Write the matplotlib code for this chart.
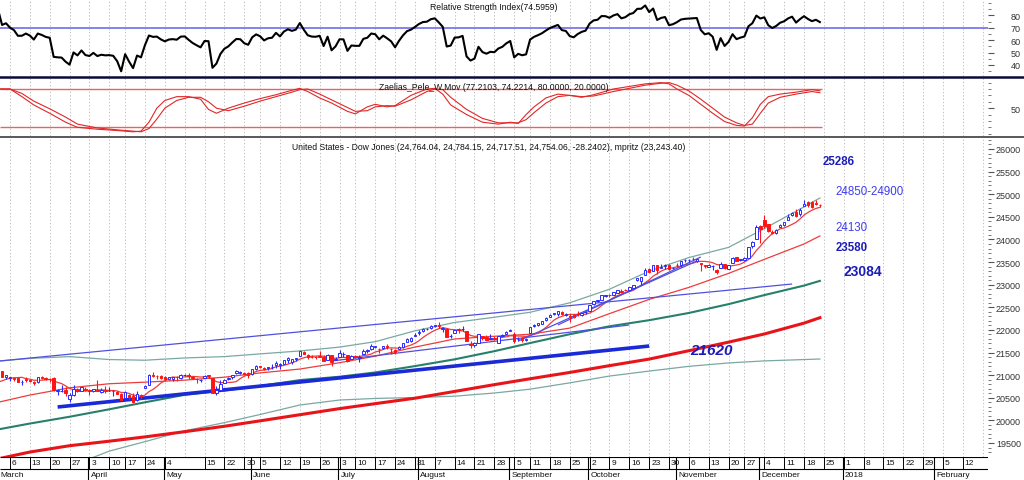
import numpy as np
import pandas as pd
import matplotlib
matplotlib.use("Agg")
import matplotlib.pyplot as plt
from matplotlib.lines import Line2D
from matplotlib.ticker import FixedLocator, NullFormatter

plt.rcParams['font.family'] = ['Liberation Sans', 'DejaVu Sans']

# ---------------- data ----------------
start_date = '2017-03-01'
holidays = ['2017-04-14', '2017-05-29', '2017-07-04', '2017-09-04', '2017-11-23']

# January-February 2017 closes (only used to start the RSI / fast average)
warmup_closes = [19882, 19942, 19899, 19964, 19887, 19856, 19954, 19891, 19886, 19826,
                 19804, 19732, 19827, 19799, 19912, 20069, 20101, 20094, 19971, 19864,
                 19891, 19885, 20071, 20052, 20090, 20054, 20172, 20269, 20412, 20504,
                 20612, 20620, 20624, 20743, 20776, 20810, 20822, 20837, 20812]

opens = [
    20958, 21089, 20949, 20944, 20941, 20929, 20841, 20913, 20889, 20849, 20846, 20970, 20945, 20907, 20934, 20644, 20651, 20671, 20478, 20555, 20684, 20659, 20697,
    20665, 20650, 20681, 20637, 20670, 20650, 20640, 20631, 20585, 20488, 20558, 20545, 20453, 20569, 20723, 20788, 21001, 20987, 20975,
    20962, 20922, 20925, 20968, 20937, 21001, 21006, 20970, 20920, 20896, 20930, 20999, 20937, 20602, 20681, 20827, 20913, 20954, 21037, 21056, 21039, 21041,
    21023, 21145, 21195, 21156, 21161, 21183, 21216, 21230, 21250, 21346, 21298, 21368, 21425, 21521, 21451, 21411, 21397, 21421, 21404, 21340, 21438, 21324,
    21392, 21471, 21441, 21351, 21416, 21379, 21464, 21529, 21584, 21628, 21585, 21604, 21649, 21583, 21560, 21583, 21625, 21734, 21761, 21859,
    21925, 21985, 22018, 22051, 22086, 22105, 22013, 22019, 21858, 21928, 22024, 22014, 21982, 21683, 21669, 21716, 21860, 21837, 21808, 21826, 21720, 21862, 21919,
    21967, 21920, 21792, 21816, 21784, 21936, 22093, 22100, 22131, 22212, 22292, 22350, 22362, 22402, 22333, 22318, 22328, 22343, 22329, 22388,
    22423, 22569, 22646, 22671, 22754, 22763, 22783, 22822, 22866, 22882, 22875, 22933, 23094, 23086, 23210, 23349, 23302, 23432, 23374, 23422, 23432, 23362,
    23442, 23441, 23537, 23541, 23566, 23532, 23470, 23424, 23392, 23408, 23335, 23369, 23455, 23354, 23476, 23604, 23554, 23555, 23589, 23854, 24000,
    24305, 24424, 24335, 24158, 24148, 24272, 24329, 24427, 24543, 24606, 24560, 24739, 24839, 24828, 24807, 24764]
highs = [
    21169, 21101, 21014, 20966, 20941, 20949, 20895, 20958, 20903, 20864, 20951, 20992, 20950, 20929, 20953, 20690, 20778, 20734, 20609, 20777, 20715, 20738, 20727,
    20703, 20703, 20888, 20726, 20752, 20729, 20668, 20660, 20596, 20639, 20580, 20605, 20655, 20592, 20779, 21016, 21071, 21012, 20994,
    20974, 20961, 20967, 20992, 21015, 21033, 21043, 20979, 20935, 20914, 20999, 21000, 20937, 20757, 20895, 20919, 20952, 21013, 21113, 21095, 21059, 21064,
    21145, 21225, 21208, 21176, 21190, 21239, 21305, 21274, 21332, 21392, 21361, 21384, 21535, 21527, 21469, 21454, 21429, 21535, 21449, 21462, 21453, 21393,
    21562, 21512, 21441, 21452, 21445, 21448, 21582, 21576, 21681, 21650, 21609, 21646, 21681, 21595, 21577, 21654, 21713, 21830, 21833, 21929,
    21990, 22036, 22041, 22104, 22118, 22180, 22055, 22037, 21917, 22002, 22039, 22084, 21982, 21759, 21729, 21909, 21860, 21885, 21900, 21867, 21874, 21902, 21977,
    22016, 21944, 21844, 21834, 21831, 22070, 22128, 22159, 22206, 22275, 22359, 22382, 22413, 22419, 22369, 22358, 22353, 22417, 22384, 22411,
    22558, 22646, 22672, 22777, 22775, 22793, 22839, 22873, 22905, 22906, 22957, 23002, 23158, 23167, 23360, 23371, 23442, 23436, 23449, 23450, 23449, 23399,
    23485, 23517, 23557, 23564, 23602, 23565, 23483, 23445, 23468, 23425, 23351, 23494, 23460, 23443, 23617, 23611, 23563, 23605, 23837, 23970, 24327,
    24330, 24534, 24350, 24213, 24233, 24345, 24387, 24552, 24607, 24671, 24691, 24876, 24850, 24852, 24877, 24784]
lows = [
    20958, 20949, 20924, 20861, 20880, 20843, 20777, 20858, 20846, 20783, 20831, 20908, 20900, 20848, 20655, 20570, 20620, 20542, 20412, 20542, 20630, 20646, 20660,
    20559, 20622, 20641, 20610, 20605, 20648, 20536, 20577, 20453, 20488, 20463, 20386, 20431, 20482, 20723, 20788, 20969, 20914, 20921,
    20866, 20902, 20873, 20876, 20913, 20990, 20925, 20921, 20832, 20845, 20930, 20926, 20606, 20553, 20681, 20824, 20887, 20917, 21025, 21020, 20993, 20937,
    21000, 21121, 21160, 21121, 21114, 21141, 21163, 21136, 21245, 21277, 21251, 21320, 21425, 21467, 21352, 21373, 21355, 21393, 21310, 21333, 21197, 21324,
    21392, 21410, 21286, 21351, 21376, 21293, 21464, 21498, 21556, 21601, 21498, 21578, 21585, 21476, 21468, 21573, 21610, 21725, 21732, 21859,
    21898, 21946, 21992, 22024, 22061, 22051, 21950, 21843, 21822, 21928, 21942, 21985, 21749, 21600, 21630, 21716, 21783, 21783, 21791, 21786, 21705, 21847, 21903,
    21967, 21712, 21747, 21725, 21760, 21936, 22068, 22087, 22127, 22187, 22285, 22339, 22300, 22333, 22297, 22186, 22270, 22304, 22313, 22351,
    22420, 22560, 22620, 22662, 22733, 22732, 22771, 22812, 22820, 22852, 22870, 22932, 23073, 22997, 23210, 23271, 23302, 23241, 23365, 23350, 23315, 23337,
    23401, 23384, 23494, 23510, 23515, 23503, 23311, 23376, 23381, 23320, 23242, 23369, 23357, 23350, 23476, 23517, 23527, 23513, 23589, 23820, 24000,
    23922, 24249, 24168, 24115, 24124, 24272, 24298, 24427, 24522, 24506, 24517, 24739, 24726, 24705, 24760, 24718]
closes = [
    21116, 20951, 21006, 20954, 20925, 20856, 20858, 20903, 20881, 20837, 20950, 20935, 20915, 20906, 20668, 20661, 20657, 20597, 20551, 20702, 20659, 20728, 20663,
    20650, 20689, 20648, 20663, 20656, 20658, 20651, 20592, 20453, 20637, 20523, 20404, 20579, 20548, 20764, 20996, 20975, 20981, 20941,
    20913, 20950, 20958, 20951, 21007, 21012, 20976, 20943, 20919, 20897, 20982, 20980, 20607, 20663, 20805, 20895, 20938, 21012, 21083, 21080, 21029, 21009,
    21144, 21206, 21184, 21136, 21174, 21183, 21272, 21236, 21328, 21375, 21360, 21384, 21529, 21467, 21410, 21397, 21395, 21410, 21311, 21455, 21287, 21350,
    21479, 21478, 21320, 21414, 21409, 21409, 21532, 21553, 21638, 21630, 21575, 21641, 21612, 21580, 21513, 21613, 21711, 21797, 21830, 21891,
    21964, 22016, 22026, 22093, 22118, 22085, 22049, 21844, 21858, 21994, 21999, 22025, 21751, 21675, 21704, 21900, 21812, 21783, 21814, 21808, 21865, 21892, 21948,
    21988, 21753, 21808, 21785, 21798, 22057, 22119, 22158, 22203, 22268, 22331, 22371, 22413, 22359, 22350, 22296, 22284, 22341, 22381, 22405,
    22558, 22642, 22662, 22775, 22774, 22761, 22831, 22873, 22841, 22872, 22957, 22997, 23158, 23163, 23329, 23274, 23442, 23329, 23401, 23434, 23349, 23377,
    23435, 23516, 23539, 23548, 23557, 23563, 23462, 23422, 23440, 23409, 23271, 23458, 23358, 23430, 23591, 23526, 23558, 23581, 23837, 23941, 24272,
    24232, 24290, 24181, 24141, 24211, 24329, 24386, 24505, 24585, 24509, 24652, 24792, 24755, 24727, 24782, 24754]

# smooth overlay lines (bar number since 1 March 2017)
ma_bars    = [0, 8, 18, 28, 37, 47, 57, 66, 76, 86, 95, 105, 115, 125, 134, 144, 154, 164, 174, 184, 193, 203, 207]
ma_long    = [19150, 19300, 19440, 19540, 19635, 19750, 19870, 19990, 20125, 20260, 20370, 20490, 20640, 20790, 20920, 21060, 21210, 21355, 21540, 21730, 21910, 22150, 22270]
ma_mid     = [19800, 19930, 20080, 20245, 20400, 20565, 20660, 20760, 20890, 20965, 21060, 21200, 21350, 21530, 21710, 21905, 22080, 22215, 22375, 22570, 22770, 22980, 23084]
band_upper = [21310, 21370, 21410, 21345, 21330, 21380, 21410, 21470, 21535, 21620, 21740, 21980, 22165, 22280, 22390, 22600, 22900, 23300, 23600, 23825, 24240, 24720, 24917]
band_lower = [18500, 18700, 18980, 19320, 19530, 19770, 19950, 20130, 20340, 20450, 20485, 20505, 20535, 20605, 20690, 20830, 20980, 21090, 21195, 21270, 21315, 21345, 21357]
ma_medium  = [20400, 20560, 20720, 20810, 20845, 20890, 20955, 21050, 21135, 21275, 21420, 21620, 21800, 21860, 21905, 22040, 22360, 22675, 22940, 23250, 23560, 23900, 24077]
fast_ma_period = 7

stoch_bars = [0, 3, 6, 9, 13, 17, 20, 25, 30, 34, 36, 38, 40, 42, 45, 48, 51, 53, 55, 58, 62, 66, 70, 74, 76, 78, 81, 84, 88, 90,
              93, 95, 98, 100, 104, 108, 110, 112, 114, 118, 122, 126, 129, 131, 133, 135, 138, 141, 144, 147, 150, 155, 159, 163, 167,
              169, 171, 174, 177, 180, 183, 186, 188, 190, 192, 194, 197, 201, 205, 207]
stoch_k = [80, 80, 68, 55, 42, 28, 20, 17, 15, 13, 14, 28, 50, 62, 68, 68, 64, 48, 42, 50, 58, 65, 71, 78, 81, 76, 66, 58, 45, 41,
           52, 56, 52, 54, 70, 80, 81, 72, 55, 40, 28, 25, 28, 26, 40, 52, 66, 72, 70, 67, 71, 80, 84, 88, 90,
           88, 80, 70, 56, 42, 29, 23, 22, 35, 56, 68, 72, 75, 79, 77.2]
stoch_d = [80, 80, 73, 61, 49, 36, 25, 19, 16, 14, 13, 18, 33, 50, 62, 67, 67, 60, 50, 46, 53, 61, 68, 75, 79, 80, 72, 63, 51, 45,
           46, 52, 54, 53, 63, 76, 80, 79, 67, 48, 34, 27, 27, 27, 32, 43, 58, 68, 70, 68, 69, 76, 81, 86, 89,
           90, 86, 77, 64, 50, 36, 27, 23, 25, 42, 58, 67, 72, 76, 74.2]

trend_bar_start = [0, 15, 84, 131, 141]
trend_bar_end   = [200, 164, 159, 176, 177]
trend_val_start = [21310, 20296, 21313, 21755, 22109]
trend_val_end   = [23015, 21644, 22109, 23524, 23612]

week_tick_dates = ['2017-03-06', '2017-03-13', '2017-03-20', '2017-03-27', '2017-04-03', '2017-04-10', '2017-04-17',
                   '2017-04-24', '2017-05-01', '2017-05-15', '2017-05-22', '2017-05-30', '2017-06-05', '2017-06-12',
                   '2017-06-19', '2017-06-26', '2017-07-03', '2017-07-10', '2017-07-17', '2017-07-24', '2017-07-31',
                   '2017-08-07', '2017-08-14', '2017-08-21', '2017-08-28', '2017-09-05', '2017-09-11', '2017-09-18',
                   '2017-09-25', '2017-10-02', '2017-10-09', '2017-10-16', '2017-10-23', '2017-10-30', '2017-11-06',
                   '2017-11-13', '2017-11-20', '2017-11-27', '2017-12-04', '2017-12-11', '2017-12-18', '2017-12-25',
                   '2018-01-01', '2018-01-08', '2018-01-15', '2018-01-22', '2018-01-29', '2018-02-05', '2018-02-12']
week_tick_labels = ['6', '13', '20', '27', '3', '10', '17', '24', '4', '15', '22', '30', '5', '12', '19', '26', '3', '10',
                    '17', '24', '31', '7', '14', '21', '28', '5', '11', '18', '25', '2', '9', '16', '23', '30', '6', '13',
                    '20', '27', '4', '11', '18', '25', '1', '8', '15', '22', '29', '5', '12']
month_dates = ['2017-04-03', '2017-05-01', '2017-06-01', '2017-07-03', '2017-08-01', '2017-09-01', '2017-10-02',
               '2017-11-01', '2017-12-01', '2018-01-01', '2018-02-01']
month_labels = ['April', 'May', 'June', 'July', 'August', 'September', 'October', 'November', 'December', '2018', 'February']

level_labels = ['25286', '24850-24900', '24130', '23580', '23084', '21620']

rsi_title = 'Relative Strength Index(74.5959)'
stoch_title = 'Zaelias_Pele_W.Mov (77.2103, 74.2214, 80.0000, 20.0000)'
main_title = ('United States - Dow Jones (24,764.04, 24,784.15, 24,717.51, 24,754.06, -28.2402), '
              'mpritz (23,243.40)')

# ---------------- calendar ----------------
cal = pd.bdate_range(start_date, '2018-03-30')
cal = cal[~cal.isin(pd.to_datetime(holidays))]
pos = {d: i for i, d in enumerate(cal)}
def P(s):
    return pos[pd.Timestamp(s)]

week_first = pd.Series(np.arange(len(cal)), index=cal).groupby(cal.to_period('W')).min().values

n = min(len(opens), len(highs), len(lows), len(closes))
o = np.array(opens[:n], float); h = np.array(highs[:n], float)
l = np.array(lows[:n], float); c = np.array(closes[:n], float)
bars = np.arange(n)

allc = np.array(warmup_closes + list(c), float)
d = np.diff(allc)
g = np.clip(d, 0, None); ls = np.clip(-d, 0, None)
per = 14
ag = g[:per].mean(); al = ls[:per].mean()
rsi_all = np.full(len(allc), np.nan)
rsi_all[per] = 100 - 100 / (1 + ag / al)
for k in range(per, len(d)):
    ag = (ag * (per - 1) + g[k]) / per
    al = (al * (per - 1) + ls[k]) / per
    rsi_all[k + 1] = 100 - 100 / (1 + ag / al)
rsi = rsi_all[len(warmup_closes):]
fast_ma = pd.Series(allc).rolling(fast_ma_period).mean().values[len(warmup_closes):]

# ---------------- figure ----------------
W, H = 1024, 481
fig = plt.figure(figsize=(W / 100, H / 100), dpi=100)
fig.patch.set_facecolor('white')
def fx(px): return px / W
def fy(py): return 1 - py / H

PW = 988
def bar_at_px(px): return 3 + (px - 10) / 3.97
XL = (bar_at_px(0), bar_at_px(PW))
LABEL_RIGHT = 1021
MAJ_LEN = 4.0  # points

def mk_ax(top, bottom):
    ax = fig.add_axes([0, fy(bottom), fx(PW), (bottom - top) / H])
    ax.set_xlim(*XL)
    for s in ax.spines.values():
        s.set_visible(False)
    ax.set_xticks([])
    ax.yaxis.tick_right()
    pad_pt = (LABEL_RIGHT - PW) * 0.72 - MAJ_LEN
    ax.tick_params(axis='y', which='major', direction='out', length=MAJ_LEN, width=0.8, color='#555555',
                   labelsize=6.5, labelcolor='#333333', pad=pad_pt)
    ax.tick_params(axis='y', which='minor', direction='out', length=2.0, width=0.7, color='#777777')
    for wb in week_first:
        ax.axvline(wb, color='#b4b4b4', lw=0.6, ls=(0, (1.5, 2.5)), zorder=0)
    return ax

def right_align(ax):
    for t in ax.get_yticklabels():
        t.set_horizontalalignment('right')

ax_rsi = mk_ax(0, 77)
ax_st = mk_ax(79, 137)
ax_m = mk_ax(139, 458)

# RSI
ax_rsi.set_ylim(31.1, 93.3)
ax_rsi.yaxis.set_major_locator(FixedLocator([40, 50, 60, 70, 80]))
ax_rsi.yaxis.set_minor_locator(FixedLocator([35, 45, 55, 65, 75, 85, 90]))
ax_rsi.yaxis.set_minor_formatter(NullFormatter())
ax_rsi.axhline(70, color='#7878e8', lw=1.3, zorder=1)
ax_rsi.plot(bars, rsi, color='black', lw=1.5, zorder=3)

# Stochastic
ax_st.set_ylim(6.4, 97.2)
ax_st.yaxis.set_major_locator(FixedLocator([50]))
ax_st.yaxis.set_minor_locator(FixedLocator([10, 20, 30, 40, 60, 70, 80, 90]))
ax_st.yaxis.set_minor_formatter(NullFormatter())
ax_st.hlines([80, 20], XL[0], n - 0.5, colors='#e86464', lw=1.0, zorder=1)
ax_st.plot(stoch_bars, stoch_k, color='#e02828', lw=0.8, zorder=3)
ax_st.plot(stoch_bars, stoch_d, color='#e02828', lw=0.8, zorder=3)

# Main price panel
ax_m.set_ylim(26000 - (458 - 150) / 0.04523, 26000 + (150 - 139) / 0.04523)
ax_m.yaxis.set_major_locator(FixedLocator(np.arange(19500, 26001, 500)))
ax_m.yaxis.set_minor_locator(FixedLocator(np.arange(19300, 26201, 100)))
ax_m.yaxis.set_minor_formatter(NullFormatter())

for ax in (ax_rsi, ax_st, ax_m):
    right_align(ax)

ax_m.plot(ma_bars, band_lower, color='#7aa8a2', lw=0.9, zorder=2)
ax_m.plot(ma_bars, band_upper, color='#7aa8a2', lw=0.9, zorder=2)
ax_m.plot(ma_bars, ma_mid, color='#26806a', lw=1.5, zorder=2)
ax_m.plot(ma_bars, ma_long, color='#e8141a', lw=2.2, zorder=2)
ax_m.plot(ma_bars, ma_medium, color='#ee3c3c', lw=0.9, zorder=2)
ax_m.plot(bars, fast_ma, color='#ee3c3c', lw=0.9, zorder=2)
for k in range(len(trend_bar_start)):
    thick = (k == 1)
    ax_m.plot([trend_bar_start[k], trend_bar_end[k]], [trend_val_start[k], trend_val_end[k]],
              color='#1a2ad6' if thick else '#5050e0', lw=2.6 if thick else 0.9, zorder=2,
              solid_capstyle='butt')

up = c >= o
col = np.where(up, '#2a2aff', '#ff1414')
ax_m.vlines(bars, l, h, colors=col, lw=0.8, zorder=4)
body_lo = np.minimum(o, c)
body_h = np.maximum(np.abs(c - o), 6)
ax_m.bar(bars[up], body_h[up], bottom=body_lo[up], width=0.62, facecolor='white',
         edgecolor='#2a2aff', linewidth=0.7, zorder=5)
ax_m.bar(bars[~up], body_h[~up], bottom=body_lo[~up], width=0.62, facecolor='#ff1414',
         edgecolor='#ff1414', linewidth=0.7, zorder=5)

# date axis
ax_d = fig.add_axes([0, 0, fx(PW), 23 / H])
ax_d.set_xlim(*XL); ax_d.set_ylim(0, 1); ax_d.axis('off')
row = (481 - 470) / 23
ax_d.hlines([0.985, row], XL[0], XL[1], colors='black', lw=0.8)
for s, lab in zip(week_tick_dates, week_tick_labels):
    b = P(s)
    ax_d.vlines(b, row, 1, colors='black', lw=0.7)
    ax_d.text(b + 0.5, (row + 1) / 2, lab, fontsize=6, ha='left', va='center', color='#111111')
ax_d.text(XL[0] + 0.2, row / 2 - 0.02, 'March', fontsize=6, ha='left', va='center', color='#111111')
for s, lab in zip(month_dates, month_labels):
    b = P(s)
    ax_d.vlines(b - 0.3, 0, 1, colors='black', lw=0.8)
    ax_d.text(b + 0.3, row / 2 - 0.02, lab, fontsize=6, ha='left', va='center', color='#111111')

# separators
fig.add_artist(Line2D([0, 1], [fy(78), fy(78)], color='#0a0a3c', lw=1.8))
fig.add_artist(Line2D([0, 1], [fy(138), fy(138)], color='#3c3c3c', lw=1.2))

# titles
fig.text(fx(494), fy(7), rsi_title, fontsize=6.2, ha='center', va='center', color='#111111')
fig.text(fx(494), fy(87), stoch_title, fontsize=6.2, ha='center', va='center', color='#111111')
fig.text(fx(489), fy(147), main_title, fontsize=6.2, ha='center', va='center', color='#111111')

# level annotations
dark_blue = '#1c1cb8'
light_blue = '#3c3cf0'
fig.text(fx(823), fy(162), level_labels[0], color=dark_blue, fontsize=8.3, fontweight='bold', va='center')
fig.text(fx(835), fy(192), level_labels[1], color=light_blue, fontsize=8.3, va='center')
fig.text(fx(835), fy(228), level_labels[2], color=light_blue, fontsize=8.3, va='center')
fig.text(fx(836), fy(248), level_labels[3], color=dark_blue, fontsize=8.3, fontweight='bold', va='center')
fig.text(fx(843), fy(272), level_labels[4], color=dark_blue, fontsize=10, fontweight='bold', va='center')
fig.text(fx(690), fy(351), level_labels[5], color=dark_blue, fontsize=11, fontweight='bold',
         fontstyle='italic', va='center')

fig.savefig('out.png', dpi=100, facecolor='white')
